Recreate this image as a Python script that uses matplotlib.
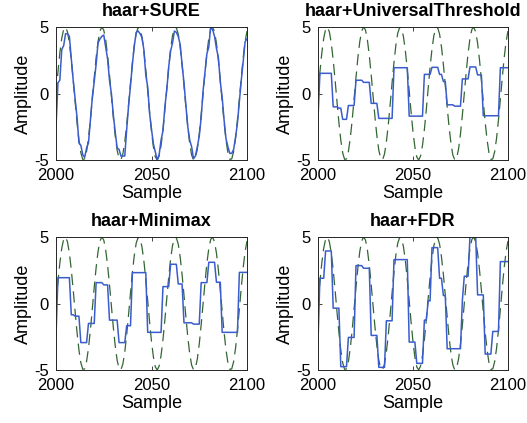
import matplotlib

matplotlib.use("Agg")
import matplotlib.pyplot as plt

plt.rcParams["font.family"] = ["Liberation Sans", "DejaVu Sans"]
plt.rcParams["axes.unicode_minus"] = False

START_SAMPLE = 2000

# clean reference signal, read at each sample 2000..2100
clean_signal = [
    0.0, 1.6, 3.04, 4.15, 4.83, 4.99, 4.63, 3.78, 2.53, 1.01,
    -0.61, -2.17, -3.5, -4.46, -4.95, -4.92, -4.36, -3.35, -1.99, -0.41,
    1.21, 2.7, 3.91, 4.7, 5.0, 4.77, 4.04, 2.87, 1.41, -0.2,
    -1.79, -3.19, -4.26, -4.87, -4.97, -4.55, -3.64, -2.35, -0.82, 0.81,
    2.35, 3.64, 4.55, 4.97, 4.88, 4.26, 3.2, 1.8, 0.21, -1.4,
    -2.87, -4.03, -4.77, -5.0, -4.7, -3.91, -2.71, -1.22, 0.4, 1.98,
    3.35, 4.36, 4.91, 4.95, 4.46, 3.5, 2.18, 0.62, -1.01, -2.52,
    -3.77, -4.63, -4.99, -4.83, -4.16, -3.04, -1.61, -0.01, 1.59, 3.03,
    4.15, 4.82, 4.99, 4.63, 3.79, 2.54, 1.02, -0.6, -2.16, -3.49,
    -4.46, -4.95, -4.92, -4.37, -3.36, -1.99, -0.42, 1.2, 2.69, 3.9,
    4.7,
]

sure_denoised = [
    -2.5, 0.8, 1.0, 3.3, 3.6, 4.5, 4.5, 4.3, 2.6, 1.0,
    -0.4, -1.8, -3.7, -3.9, -4.6, -4.8, -4.1, -3.7, -2.0, -0.3,
    0.9, 2.2, 3.8, 4.1, 4.3, 4.4, 3.5, 2.6, 1.0, 0.0,
    -1.6, -2.9, -4.1, -4.2, -4.7, -4.7, -4.7, -2.7, -0.9, 0.6,
    2.2, 3.6, 4.6, 4.7, 4.5, 4.2, 3.3, 1.4, 0.5, -1.5,
    -2.7, -3.8, -4.4, -5.0, -4.6, -3.5, -2.8, -1.0, 0.3, 2.0,
    3.2, 3.8, 4.7, 4.6, 4.3, 3.7, 2.2, 0.8, -0.9, -2.5,
    -3.5, -4.0, -4.9, -4.7, -4.0, -3.2, -1.8, 0.2, 1.6, 3.0,
    3.5, 5.1, 4.8, 4.3, 3.4, 2.7, 0.9, -0.3, -2.0, -3.4,
    -4.0, -4.5, -4.5, -4.2, -3.3, -2.2, -0.6, 1.0, 2.4, 3.9,
    4.1,
]

universal_denoised = [
    -1.9, 1.52, 1.52, 1.52, 1.52, 1.52, 1.52, 1.52, -1.0, -1.0,
    -1.0, -1.1, -1.1, -1.94, -1.94, -1.94, -0.9, -0.9, -0.9, -0.9,
    1.0, 1.0, 1.0, 1.0, 0.84, 0.84, 0.84, 0.84, -0.74, -0.74,
    -0.74, -0.74, -1.87, -1.87, -1.87, -1.87, -1.87, -1.87, -1.87, -1.87,
    1.94, 1.94, 1.94, 1.94, 1.94, 1.94, 1.94, 1.94, -1.7, -1.7,
    -1.7, -1.7, -1.7, -1.7, -1.7, -1.7, 1.44, 1.44, 1.44, 1.44,
    1.97, 1.97, 1.97, 1.97, 1.44, 1.44, 0.9, 0.9, -0.85, -0.85,
    -0.85, -0.85, -0.95, -0.95, -0.95, -0.95, 1.1, 1.1, 1.1, 1.1,
    2.0, 2.0, 2.0, 2.0, 1.4, 1.4, 1.4, -1.67, -1.67, -1.67,
    -1.67, -1.67, -1.67, -1.67, -1.67, -1.67, 1.94, 1.94, 1.94, 1.94,
    1.94,
]

minimax_denoised = [
    -2.4, 1.94, 1.94, 1.94, 1.94, 1.94, 1.94, 1.94, -0.85, -0.85,
    -0.95, -0.95, -0.95, -2.94, -2.94, -2.94, -2.94, -1.5, -1.5, -1.5,
    -1.5, 1.57, 1.57, 1.57, 1.57, 1.4, 1.4, 1.4, -1.25, -1.25,
    -1.25, -1.25, -1.25, -2.94, -2.94, -2.94, -2.94, -1.67, -1.67, -1.67,
    2.32, 2.32, 2.32, 2.32, 2.32, 2.32, 2.32, 2.32, -2.17, -2.17,
    -2.17, -2.17, -2.17, -2.17, -2.17, -2.17, 1.27, 1.27, 1.27, 1.27,
    2.95, 2.95, 2.95, 2.95, 1.47, 1.47, 1.47, -1.45, -1.45, -1.45,
    -1.45, -1.45, -1.55, -1.55, -1.55, -1.55, 1.57, 1.57, 1.57, 1.57,
    3.1, 3.1, 3.1, 3.1, 1.6, 1.6, 1.6, -2.17, -2.17, -2.17,
    -2.17, -2.17, -2.17, -2.17, -2.17, -2.17, 2.34, 2.34, 2.34, 2.34,
    2.34,
]

fdr_denoised = [
    -2.9, 1.9, 1.9, 1.9, 3.95, 3.95, 3.95, 3.95, -0.35, -0.35,
    -0.35, -0.35, -4.75, -4.75, -4.75, -4.75, -2.55, -2.55, -2.55, -2.55,
    2.85, 2.85, 2.85, 2.85, 2.65, 2.65, 2.65, 2.65, -2.4, -2.4,
    -2.4, -2.4, -4.8, -4.8, -4.8, -4.8, -1.3, -1.3, -1.3, -1.3,
    3.3, 3.3, 3.3, 3.3, 3.3, 3.3, 3.3, 3.3, -2.9, -2.9,
    -2.9, -2.9, -4.5, -4.5, -4.5, -4.5, -1.25, -1.25, 0.2, 0.2,
    4.2, 4.2, 4.2, 4.2, 1.9, 1.9, 0.6, 0.6, -3.4, -3.4,
    -3.4, -3.4, -3.4, -3.4, -3.4, -3.4, 0.25, 2.05, 2.05, 2.05,
    5.05, 5.05, 5.05, 5.05, 0.65, 0.65, 0.65, 0.65, -3.8, -3.8,
    -3.8, -3.8, -2.1, -2.1, -2.1, -2.1, 3.15, 3.15, 3.15, 3.15,
    3.15,
]

titles = ["haar+SURE", "haar+UniversalThreshold", "haar+Minimax", "haar+FDR"]
denoised = [sure_denoised, universal_denoised, minimax_denoised, fdr_denoised]

samples = [START_SAMPLE + i for i in range(len(clean_signal))]

# axes boxes in figure fractions (left, bottom, width, height)
positions = [
    [0.1063, 0.6217, 0.3624, 0.3144],
    [0.6034, 0.6217, 0.3605, 0.3144],
    [0.1063, 0.1253, 0.3624, 0.3144],
    [0.6034, 0.1253, 0.3605, 0.3144],
]

fig = plt.figure(figsize=(5.27, 4.23), dpi=100)

for title, values, pos in zip(titles, denoised, positions):
    ax = fig.add_axes(pos)
    ax.plot(samples, clean_signal, color="#336633", linestyle=(0, (9, 5)), linewidth=0.9)
    ax.plot(samples, values, color="#3a5ccc", linewidth=1.1)

    ax.set_xlim(2000, 2100)
    ax.set_ylim(-5, 5)
    ax.set_xticks([2000, 2050, 2100])
    ax.set_yticks([-5, 0, 5])
    ax.tick_params(direction="in", length=3, width=0.6, top=True, right=True,
                   labelsize=12, colors="#262626", labelcolor="black")
    ax.tick_params(axis="x", pad=6)
    ax.tick_params(axis="y", pad=5)
    for spine in ax.spines.values():
        spine.set_color("#262626")
        spine.set_linewidth(0.7)

    ax.set_title(title, fontsize=13, fontweight="bold", pad=8)
    ax.set_xlabel("Sample", fontsize=13, labelpad=1)
    ax.set_ylabel("Amplitude", fontsize=13, labelpad=2)

fig.savefig("out.png", dpi=100)
plt.close(fig)
